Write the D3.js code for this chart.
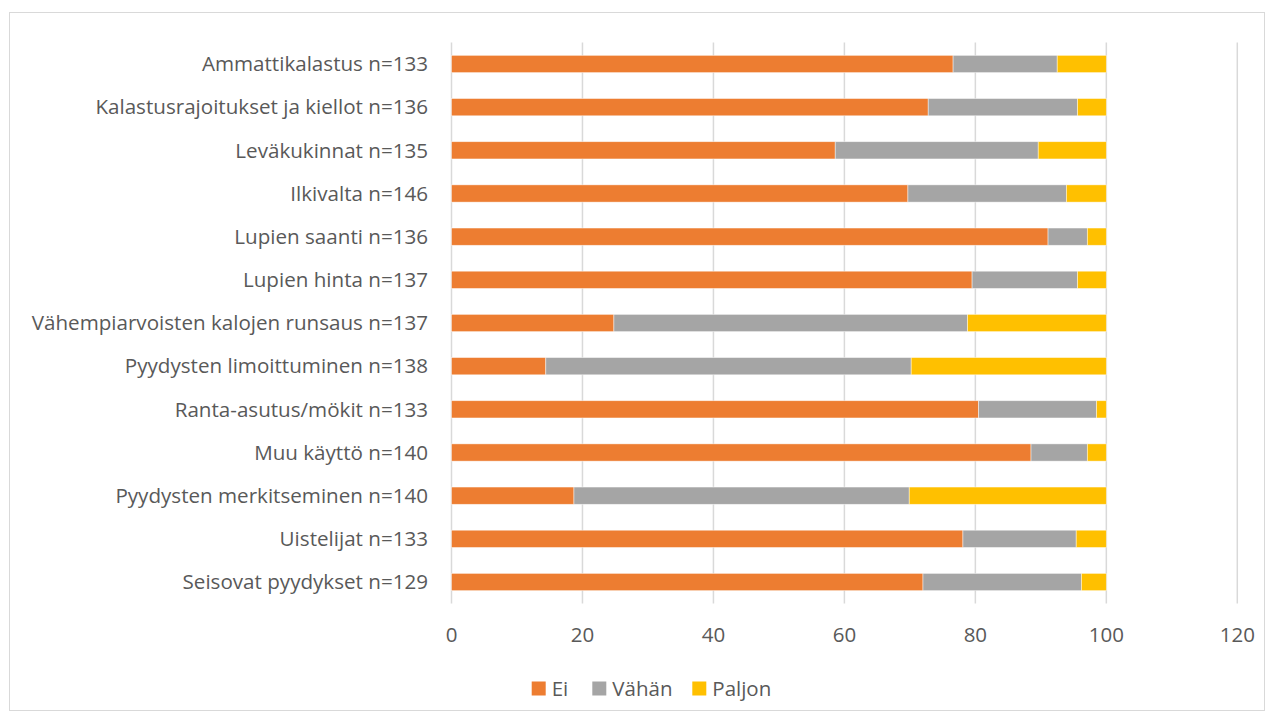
<!DOCTYPE html>
<html>
<head>
<meta charset="utf-8">
<script src="https://cdn.jsdelivr.net/npm/d3@7"></script>
<style>
  body { margin: 0; background: #fff; }
  svg { font-family: "Open Sans", sans-serif; }
</style>
</head>
<body>
<svg id="chart" width="1274" height="720"></svg>
<script>
var categories = [
  "Ammattikalastus n=133",
  "Kalastusrajoitukset ja kiellot n=136",
  "Leväkukinnat n=135",
  "Ilkivalta n=146",
  "Lupien saanti n=136",
  "Lupien hinta n=137",
  "Vähempiarvoisten kalojen runsaus n=137",
  "Pyydysten limoittuminen n=138",
  "Ranta-asutus/mökit n=133",
  "Muu käyttö n=140",
  "Pyydysten merkitseminen n=140",
  "Uistelijat n=133",
  "Seisovat pyydykset n=129"
];
var seriesNames = ["Ei", "Vähän", "Paljon"];
var ei     = [76.6, 72.8, 58.6, 69.7, 91.1, 79.5, 24.8, 14.4, 80.5, 88.5, 18.7, 78.1, 72.0];
var vahan  = [15.9, 22.8, 31.0, 24.2, 6.0, 16.1, 54.0, 55.8, 18.0, 8.6, 51.2, 17.3, 24.2];
var paljon = [7.5, 4.4, 10.4, 6.1, 2.9, 4.4, 21.2, 29.8, 1.5, 2.9, 30.1, 4.6, 3.8];
var xTicks = [0, 20, 40, 60, 80, 100, 120];
var colors = ["#ED7D31", "#A5A5A5", "#FFC000"];

var svg = d3.select("#chart");

// outer frame
svg.append("rect")
  .attr("x", 9.5).attr("y", 12.5)
  .attr("width", 1255).attr("height", 698)
  .attr("fill", "none")
  .attr("stroke", "#d9d9d9")
  .attr("stroke-width", 1);

var plotLeft = 451.5, plotRight = 1237.3, plotTop = 42.4, plotBottom = 603.6;

var x = d3.scaleLinear().domain([0, 120]).range([plotLeft, plotRight]);
var y = d3.scaleBand().domain(categories).range([plotTop, plotBottom]).paddingInner(0.6).paddingOuter(0.3);

// gridlines
svg.append("g")
  .selectAll("line")
  .data(xTicks)
  .enter().append("line")
    .attr("x1", d => x(d)).attr("x2", d => x(d))
    .attr("y1", plotTop).attr("y2", plotBottom)
    .attr("stroke", "#d9d9d9")
    .attr("stroke-width", 1.5);

// tick labels
svg.append("g")
  .selectAll("text")
  .data(xTicks)
  .enter().append("text")
    .attr("x", d => x(d))
    .attr("y", 642)
    .attr("text-anchor", "middle")
    .attr("font-size", 20.5)
    .attr("fill", "#595959")
    .text(d => d);

// stacked bars
var rows = categories.map(function(c, i) {
  return { cat: c, Ei: ei[i], "Vähän": vahan[i], Paljon: paljon[i] };
});
var stack = d3.stack().keys(seriesNames);
var layers = stack(rows);

svg.append("g")
  .selectAll("g")
  .data(layers)
  .enter().append("g")
    .attr("fill", (d, i) => colors[i])
  .selectAll("rect")
  .data(d => d)
  .enter().append("rect")
    .attr("x", d => x(d[0]))
    .attr("width", d => x(d[1]) - x(d[0]))
    .attr("y", d => y(d.data.cat))
    .attr("height", y.bandwidth())
    .attr("stroke", "#ffffff")
    .attr("stroke-opacity", 0.6)
    .attr("stroke-width", 0.75);

// category labels
svg.append("g")
  .selectAll("text")
  .data(categories)
  .enter().append("text")
    .attr("x", 428)
    .attr("y", d => y(d) + y.bandwidth() / 2)
    .attr("dy", "0.35em")
    .attr("text-anchor", "end")
    .attr("font-size", 20.6)
    .attr("fill", "#595959")
    .text(d => d);

// legend
var legendX = [531.7, 592.3, 692.3];
var legend = svg.append("g")
  .selectAll("g")
  .data(seriesNames)
  .enter().append("g")
    .attr("transform", (d, i) => "translate(" + legendX[i] + ",681.5)");
legend.append("rect")
  .attr("width", 14).attr("height", 14)
  .attr("fill", (d, i) => colors[i]);
legend.append("text")
  .attr("x", 20).attr("y", 7)
  .attr("dy", "0.35em")
  .attr("font-size", 20.5)
  .attr("fill", "#595959")
  .text(d => d);
</script>
</body>
</html>
